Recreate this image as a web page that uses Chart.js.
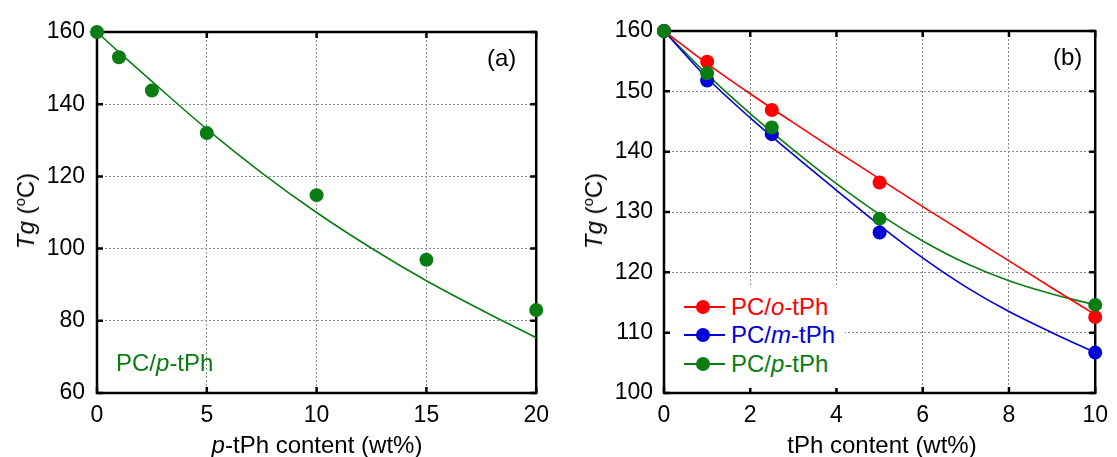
<!DOCTYPE html>
<html>
<head>
<meta charset="utf-8">
<script src="https://cdn.jsdelivr.net/npm/chart.js@4"></script>
<style>
  body { margin: 0; background: #fff; font-family: "Liberation Sans", Arial, sans-serif; }
  #wrap { position: relative; width: 1117px; height: 457px; overflow: hidden; }
  canvas { position: absolute; top: 0; }
  .lbl { position: absolute; font-size: 24px; line-height: 24px; white-space: nowrap; color: #000; }
  .ytitle { position: absolute; font-size: 24px; line-height: 24px; white-space: nowrap; transform: translate(-50%, -50%) rotate(-90deg); }
  .xtitle { position: absolute; font-size: 24px; line-height: 24px; white-space: nowrap; transform: translateX(-50%); }
  sup { font-size: 15px; vertical-align: 9px; line-height: 0; }
  #legend { position: absolute; left: 672px; top: 287px; width: 173px; height: 101px; background: #fff; }
  .row { position: absolute; left: 0; height: 24px; }
  .mk { position: absolute; left: 12px; top: 11px; width: 41px; height: 1.5px; }
  .dot { position: absolute; left: 24px; top: 5px; width: 14px; height: 14px; border-radius: 50%; }
  .txt { position: absolute; left: 59px; top: 0; font-size: 24px; line-height: 24px; white-space: nowrap; }
</style>
</head>
<body>
<div id="wrap">
  <canvas id="chartA" width="558" height="457" style="left:0;width:558px;height:457px"></canvas>
  <canvas id="chartB" width="559" height="457" style="left:558px;width:559px;height:457px"></canvas>

  <div class="ytitle" style="left:26px;top:211px"><i>Tg</i> (<sup>o</sup>C)</div>
  <div class="xtitle" style="left:317px;top:433px"><i>p</i>-tPh content (wt%)</div>
  <div class="lbl" style="left:487px;top:46px">(a)</div>
  <div class="lbl" style="left:116px;top:351px;color:#0a7d12">PC/<i>p</i>-tPh</div>

  <div class="ytitle" style="left:594px;top:211px"><i>Tg</i> (<sup>o</sup>C)</div>
  <div class="xtitle" style="left:882px;top:433px">tPh content (wt%)</div>
  <div class="lbl" style="left:1053px;top:45px">(b)</div>

  <div id="legend">
    <div class="row" style="top:8px"><div class="mk" style="background:#ff0000"></div><div class="dot" style="background:#ff0000"></div><div class="txt" style="color:#ff0000">PC/<i>o</i>-tPh</div></div>
    <div class="row" style="top:36px"><div class="mk" style="background:#0000d8"></div><div class="dot" style="background:#0000d8"></div><div class="txt" style="color:#0000d8">PC/<i>m</i>-tPh</div></div>
    <div class="row" style="top:65px"><div class="mk" style="background:#0a7d12"></div><div class="dot" style="background:#0a7d12"></div><div class="txt" style="color:#0a7d12">PC/<i>p</i>-tPh</div></div>
  </div>
</div>

<script>
// panel (a): PC/p-tPh
const contentA = [0, 1, 2.5, 5, 10, 15, 20];
const tgA = [160, 153, 143.8, 132, 114.8, 96.9, 83];
const fitContentA = [0, 1, 2.5, 5, 7.5, 10, 12.5, 15, 17.5, 20];
const fitTgA = [160, 154.4, 146.3, 133.1, 121, 110, 100.1, 91.1, 83, 75.3];

// panel (b): o-, m-, p-tPh
const contentB = [0, 1, 2.5, 5, 10];
const tgOrtho = [160, 154.9, 146.9, 134.9, 112.6];
const tgMeta = [160, 151.8, 142.9, 126.6, 106.7];
const tgPara = [160, 153, 144, 128.9, 114.6];
const fitContentB = [0, 1, 2, 3, 4, 5, 6, 7, 8, 9, 10];
const fitOrtho = [160, 154.6, 149.6, 144.8, 140.1, 135.5, 130.9, 126.4, 121.9, 117.4, 113];
const fitMeta = [160, 152.2, 145.6, 139.5, 133.6, 127.8, 122.4, 117.6, 113.5, 110, 106.7];
const fitPara = [160, 152.8, 146.3, 140.3, 134.7, 129.6, 125.2, 121.5, 118.6, 116.4, 114.6];

const RED = '#ff0000', BLUE = '#0000d8', GREEN = '#0a7d12';
const FONT = { family: '"Liberation Sans", Arial, sans-serif', size: 23 };

function pts(xs, ys) {
  return xs.map((x, i) => ({ x: x, y: ys[i] }));
}

function points(xs, ys, color, order) {
  return {
    data: pts(xs, ys), showLine: false, order: order,
    pointRadius: 7, pointHoverRadius: 7,
    backgroundColor: color, borderColor: color, pointBorderWidth: 0
  };
}

function curve(xs, ys, color) {
  return {
    data: pts(xs, ys), showLine: true, order: 10,
    pointRadius: 0, borderColor: color, borderWidth: 1.6,
    cubicInterpolationMode: 'monotone'
  };
}

// frame box plus short inward ticks
const frame = {
  id: 'frame',
  beforeDatasetsDraw(chart) {
    const { ctx, chartArea: a, scales } = chart;
    ctx.save();
    ctx.strokeStyle = '#000';
    ctx.lineWidth = 2.5;
    ctx.strokeRect(a.left, a.top, a.right - a.left, a.bottom - a.top);
    ctx.beginPath();
    scales.x.ticks.forEach(t => {
      const px = scales.x.getPixelForValue(t.value);
      ctx.moveTo(px, a.bottom); ctx.lineTo(px, a.bottom - 6);
      ctx.moveTo(px, a.top); ctx.lineTo(px, a.top + 6);
    });
    scales.y.ticks.forEach(t => {
      const py = scales.y.getPixelForValue(t.value);
      ctx.moveTo(a.left, py); ctx.lineTo(a.left + 6, py);
      ctx.moveTo(a.right, py); ctx.lineTo(a.right - 6, py);
    });
    ctx.stroke();
    ctx.restore();
  }
};

function options(xMax, xStep, yMin, yMax, yStep, yWidth, padRight, padTop) {
  const grid = { color: '#8a8a8a', lineWidth: 1, drawTicks: false };
  return {
    responsive: false,
    animation: false,
    clip: false,
    layout: { padding: { left: 0, right: padRight, top: padTop, bottom: 0 } },
    plugins: { legend: { display: false }, tooltip: { enabled: false } },
    scales: {
      x: {
        type: 'linear', min: 0, max: xMax,
        grid: grid, border: { display: false, dash: [2, 2] },
        ticks: { stepSize: xStep, font: FONT, color: '#000', padding: 9, maxRotation: 0 },
        afterFit: s => { s.height = 64; }
      },
      y: {
        type: 'linear', min: yMin, max: yMax,
        grid: grid, border: { display: false, dash: [2, 2] },
        ticks: { stepSize: yStep, font: FONT, color: '#000', padding: yWidth === 97 ? 12 : 11 },
        afterFit: s => { s.width = yWidth; }
      }
    }
  };
}

new Chart(document.getElementById('chartA'), {
  type: 'scatter',
  data: {
    datasets: [
      points(contentA, tgA, GREEN, 0),
      curve(fitContentA, fitTgA, GREEN)
    ]
  },
  options: options(20, 5, 60, 160, 20, 97, 21, 32),
  plugins: [frame]
});

new Chart(document.getElementById('chartB'), {
  type: 'scatter',
  data: {
    datasets: [
      points(contentB, tgPara, GREEN, 0),
      points(contentB, tgMeta, BLUE, 1),
      points(contentB, tgOrtho, RED, 2),
      curve(fitContentB, fitOrtho, RED),
      curve(fitContentB, fitMeta, BLUE),
      curve(fitContentB, fitPara, GREEN)
    ]
  },
  options: options(10, 2, 100, 160, 10, 106, 18, 31),
  plugins: [frame]
});
</script>
</body>
</html>
